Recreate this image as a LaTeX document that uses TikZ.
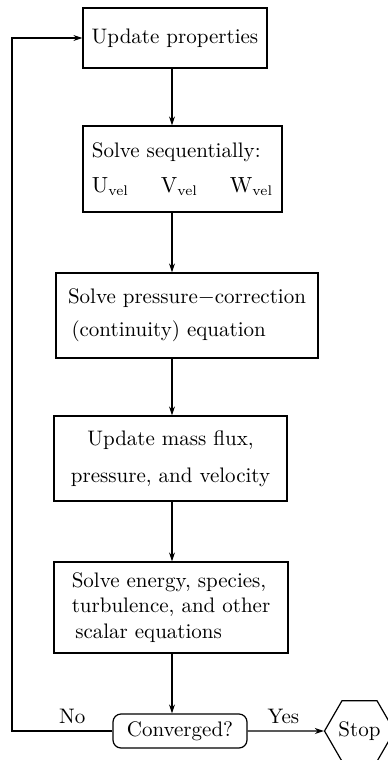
\documentclass[tikz,border=0pt]{standalone}
\usepackage{tikz}
\usetikzlibrary{arrows.meta,shapes.geometric}

\begin{document}
\begin{tikzpicture}[x=0.5pt,y=-0.5pt,font=\fontsize{10.5}{12.6}\selectfont,
  box/.style={draw,line width=0.6pt,align=left,inner sep=0pt},
  flow/.style={-{Stealth[length=4.5pt,width=3pt]},line width=0.6pt}]
\useasboundingbox (0,0) rectangle (387,760);
% boxes of the loop
\node[box,minimum width=92pt,minimum height=30pt] (props) at (175,38) {Update properties};
\node[box,minimum width=99.5pt,minimum height=43pt] (seq) at (182.5,169)
  {Solve sequentially:\\[5pt]
   $\mathrm{U}_{\mathrm{vel}}$\hspace{16pt}$\mathrm{V}_{\mathrm{vel}}$\hspace{16pt}$\mathrm{W}_{\mathrm{vel}}$};
\node[box,minimum width=131pt,minimum height=42.5pt] (pcorr) at (187,315.5)
  {Solve pressure$-$correction\\[4pt] \,(continuity) equation};
\node[box,align=center,minimum width=116.5pt,minimum height=42.5pt] (flux) at (170.5,458.5)
  {Update mass flux,\\[6pt] pressure, and velocity};
\node[box,minimum width=117pt,minimum height=45.5pt] (scalar) at (171,607.5)
  {Solve energy, species,\\ turbulence, and other\\ \,scalar equations};
\node[draw,line width=0.6pt,rounded corners=4pt,minimum width=67pt,minimum height=17pt,inner sep=0pt]
  (conv) at (180,731) {Converged?};
\node[draw,line width=0.6pt,regular polygon,regular polygon sides=6,minimum size=35pt,inner sep=0pt]
  (stop) at (359.5,731) {Stop};
\coordinate (axis) at (172,0);
\coordinate (back) at (12,40);
% connectors
\foreach \a/\b in {props/seq,seq/pcorr,pcorr/flux,flux/scalar,scalar/conv}
  \draw[flow] (\a.south -| axis) -- (\b.north -| axis);
\draw[flow] (conv.west) -- node[above,pos=0.4] (no) {No} (conv.west -| back) |- (props.west);
\draw[flow] (conv.east) -- node[above,pos=0.47] (yes) {Yes} (stop.west);
\end{tikzpicture}
\end{document}
